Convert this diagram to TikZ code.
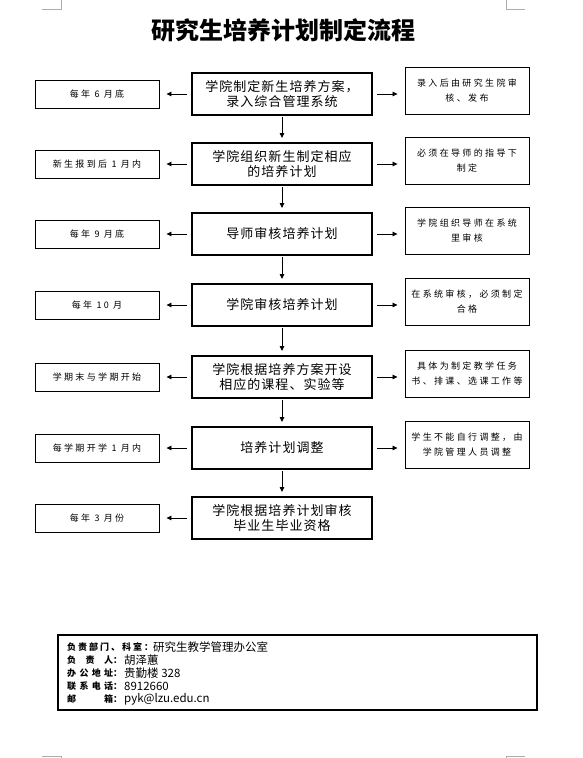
\documentclass[tikz,border=0pt]{standalone}
\usepackage{fontspec}
\setmainfont{Noto Sans CJK SC}
\newfontfamily\cjkmain[LetterSpace=8]{Noto Sans CJK SC}
\newfontfamily\cjksmall[LetterSpace=26]{Noto Sans CJK SC}
\newfontfamily\cjklab[LetterSpace=22]{Noto Sans CJK SC}
\newfontfamily\cjkplain{Noto Sans CJK SC}
\usetikzlibrary{arrows.meta,calc}
\begin{document}
\begin{tikzpicture}[x=1pt,y=-1pt,
  mainbox/.style={draw, line width=2pt, minimum width=180pt, minimum height=42pt, inner sep=0pt, align=center, font=\cjkmain\fontsize{13}{15.5}\selectfont},
  leftbox/.style={draw, line width=0.9pt, minimum width=124pt, minimum height=28pt, inner sep=0pt, align=center, font=\cjksmall\fontsize{9}{15}\selectfont},
  rightbox/.style={draw, line width=0.9pt, minimum width=124pt, minimum height=47pt, inner sep=0pt, align=center, font=\cjksmall\fontsize{9}{15}\selectfont},
  arr/.style={draw, line width=0.8pt, -{Triangle[length=5pt,width=4.5pt]}},
  harr/.style={arr, shorten <=4pt, shorten >=7pt},
  varr/.style={arr, shorten <=1pt, shorten >=4pt},
  corner/.style={draw=gray!65, line width=0.8pt},
  lab/.style={anchor=west, inner sep=0pt, font=\cjklab\bfseries\fontsize{9}{10}\selectfont},
  val/.style={anchor=west, inner sep=0pt, font=\cjkplain\fontsize{11.5}{12}\selectfont}
]
\useasboundingbox (0,0) rectangle (583,758);
% page corner marks
\draw[corner] (42,9) -- (61,9) -- (61,0);
\draw[corner] (506,0) -- (506,9) -- (525,9);
\draw[corner] (42,756) -- (61,756) -- (61,758);
\draw[corner] (506,758) -- (506,756) -- (525,756);
% title
\node[font=\bfseries\fontsize{24}{24}\selectfont] (title) at (283,30) {研究生培养计划制定流程};
% main column
\node[mainbox] (m1) at (282,94) {学院制定新生培养方案，\\录入综合管理系统};
\node[mainbox] (m2) at (282,164) {学院组织新生制定相应\\的培养计划};
\node[mainbox] (m3) at (282,234) {导师审核培养计划};
\node[mainbox] (m4) at (282,305) {学院审核培养计划};
\node[mainbox] (m5) at (282,377) {学院根据培养方案开设\\相应的课程、实验等};
\node[mainbox] (m6) at (282,448) {培养计划调整};
\node[mainbox] (m7) at (282,518) {学院根据培养计划审核\\毕业生毕业资格};
% left column
\node[leftbox] (l1) at (97,94) {每年 6 月底};
\node[leftbox] (l2) at (97,164) {新生报到后 1 月内};
\node[leftbox] (l3) at (97,234) {每年 9 月底};
\node[leftbox] (l4) at (97,305) {每年 10 月};
\node[leftbox] (l5) at (97,377) {学期末与学期开始};
\node[leftbox] (l6) at (97,448) {每学期开学 1 月内};
\node[leftbox] (l7) at (97,518) {每年 3 月份};
% right column
\node[rightbox] (r1) at (467,91) {录入后由研究生院审\\核、发布};
\node[rightbox] (r2) at (467,161) {必须在导师的指导下\\制定};
\node[rightbox] (r3) at (467,231) {学院组织导师在系统\\里审核};
\node[rightbox] (r4) at (467,302) {在系统审核，必须制定\\合格};
\node[rightbox] (r5) at (467,374) {具体为制定教学任务\\书、排课、选课工作等};
\node[rightbox] (r6) at (467,445) {学生不能自行调整，由\\学院管理人员调整};
% connectors
\foreach \i/\j in {1/2,2/3,3/4,4/5,5/6,6/7} {
  \draw[varr] (m\i.south) -- (m\j.north);
}
\foreach \i in {1,...,7} {
  \draw[harr] (m\i.west) -- (l\i.east);
}
\foreach \i in {1,...,6} {
  \draw[harr] (m\i.east) -- (m\i.east -| r\i.west);
}
% footer
\node[draw, line width=1.2pt, minimum width=479pt, minimum height=75pt, inner sep=0pt] (foot) at (297.5,672.5) {};
\node[lab] (fl1) at (67,647) {负责部门、科室：};
\node[val] (fv1) at (153,647) {研究生教学管理办公室};
\node[lab] (fl2) at (67,660) {\makebox[46pt][s]{负\hfill 责\hfill 人}：};
\node[val] (fv2) at (124,660) {胡泽蕙};
\node[lab] (fl3) at (67,673) {\makebox[46pt][s]{办\hfill 公\hfill 地\hfill 址}：};
\node[val] (fv3) at (124,673) {贵勤楼 328};
\node[lab] (fl4) at (67,686) {\makebox[46pt][s]{联\hfill 系\hfill 电\hfill 话}：};
\node[val] (fv4) at (124,686) {8912660};
\node[lab] (fl5) at (67,699) {\makebox[46pt][s]{邮\hfill 箱}：};
\node[val] (fv5) at (124,699) {pyk@lzu.edu.cn};
\end{tikzpicture}
\end{document}
